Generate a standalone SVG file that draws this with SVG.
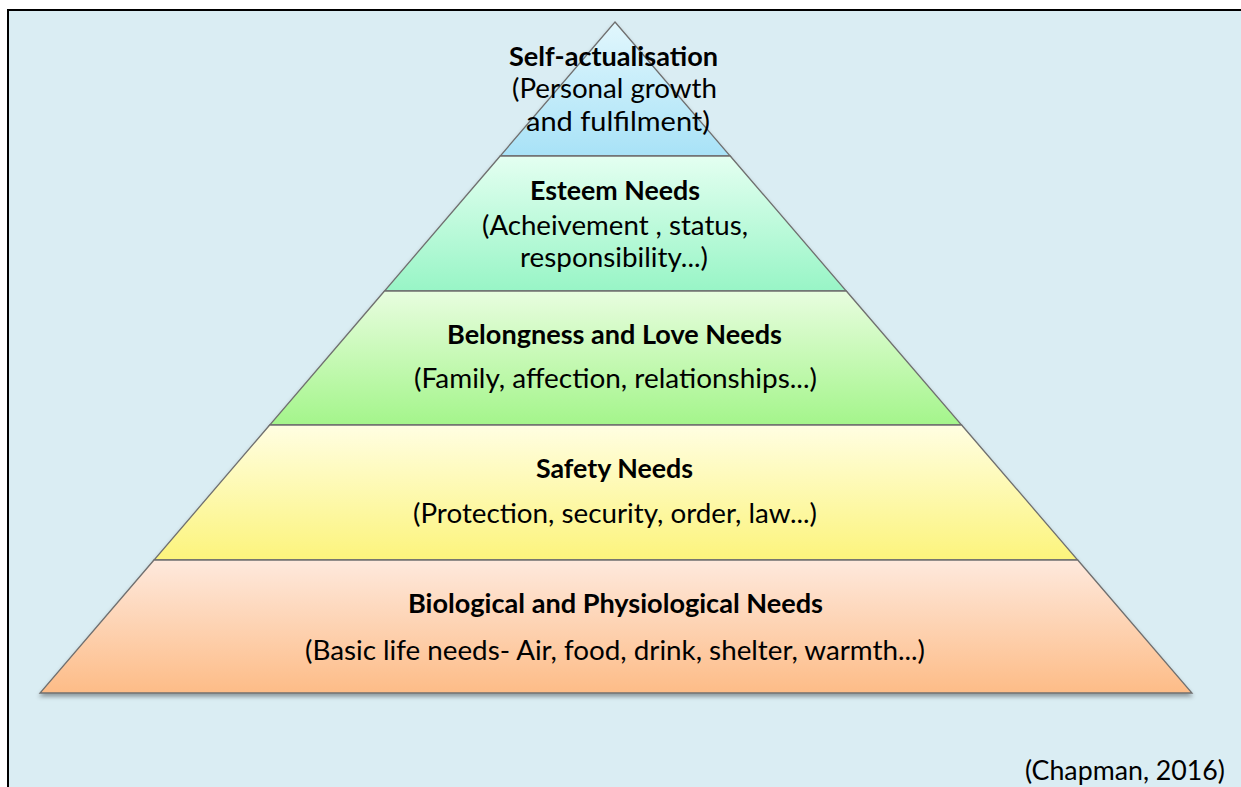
<svg xmlns="http://www.w3.org/2000/svg" width="1241" height="787" viewBox="0 0 1241 787">
<defs>
<linearGradient id="gTop" x1="0" y1="0" x2="0" y2="1"><stop offset="0" stop-color="#e2f7fd"/><stop offset="1" stop-color="#a8e2f7"/></linearGradient>
<linearGradient id="gEst" x1="0" y1="0" x2="0" y2="1"><stop offset="0" stop-color="#e4fff1"/><stop offset="1" stop-color="#98f5c6"/></linearGradient>
<linearGradient id="gBel" x1="0" y1="0" x2="0" y2="1"><stop offset="0" stop-color="#e8fddf"/><stop offset="1" stop-color="#a4f58b"/></linearGradient>
<linearGradient id="gSaf" x1="0" y1="0" x2="0" y2="1"><stop offset="0" stop-color="#fffee2"/><stop offset="1" stop-color="#fcf47c"/></linearGradient>
<linearGradient id="gBio" x1="0" y1="0" x2="0" y2="1"><stop offset="0" stop-color="#fee9dd"/><stop offset="1" stop-color="#fdbc87"/></linearGradient>
<filter id="shadow" x="-5%" y="-5%" width="110%" height="115%"><feDropShadow dx="0" dy="3" stdDeviation="2" flood-color="#000" flood-opacity="0.35"/></filter>
</defs>
<style>
.layer{stroke:#6f6f6f;stroke-width:1.3;stroke-linejoin:miter}
.t{font-family:Lato,"Open Sans","Liberation Sans",sans-serif;font-size:26px;fill:#000;text-anchor:middle}
.b{font-weight:bold}
</style>
<rect x="8" y="10" width="1240" height="800" fill="#daedf3" stroke="#000" stroke-width="2"/>
<g filter="url(#shadow)">
<g id="self-actualisation">
<polygon class="layer" fill="url(#gTop)" points="615,22 730.2,156 500.2,156"/>
</g>
<g id="esteem">
<polygon class="layer" fill="url(#gEst)" points="500.2,156 730.2,156 846.3,291 384.5,291"/>
</g>
<g id="belongness">
<polygon class="layer" fill="url(#gBel)" points="384.5,291 846.3,291 961.6,425 269.7,425"/>
</g>
<g id="safety">
<polygon class="layer" fill="url(#gSaf)" points="269.7,425 961.6,425 1077.7,560 154,560"/>
</g>
<g id="biological">
<polygon class="layer" fill="url(#gBio)" points="154,560 1077.7,560 1192,693 40,693"/>
</g>
</g>
<g id="labels">
<text class="t b" x="613.5" y="66" textLength="209" lengthAdjust="spacingAndGlyphs">Self-actualisation</text>
<text class="t" x="614.5" y="98" textLength="205" lengthAdjust="spacingAndGlyphs">(Personal growth</text>
<text class="t" x="618" y="131" textLength="184" lengthAdjust="spacingAndGlyphs">and fulfilment)</text>
<text class="t b" x="615" y="200" textLength="170" lengthAdjust="spacingAndGlyphs">Esteem Needs</text>
<text class="t" x="615" y="235" textLength="266" lengthAdjust="spacingAndGlyphs">(Acheivement , status,</text>
<text class="t" x="614" y="267" textLength="188" lengthAdjust="spacingAndGlyphs">responsibility...)</text>
<text class="t b" x="614.5" y="344" textLength="335" lengthAdjust="spacingAndGlyphs">Belongness and Love Needs</text>
<text class="t" x="615.5" y="388" textLength="403" lengthAdjust="spacingAndGlyphs">(Family, affection, relationships...)</text>
<text class="t b" x="614.5" y="478" textLength="157" lengthAdjust="spacingAndGlyphs">Safety Needs</text>
<text class="t" x="615" y="523" textLength="404" lengthAdjust="spacingAndGlyphs">(Protection, security, order, law...)</text>
<text class="t b" x="615.5" y="613" textLength="415" lengthAdjust="spacingAndGlyphs">Biological and Physiological Needs</text>
<text class="t" x="615" y="660" textLength="620" lengthAdjust="spacingAndGlyphs">(Basic life needs- Air, food, drink, shelter, warmth...)</text>
<text class="t" x="1125" y="780" textLength="200" lengthAdjust="spacingAndGlyphs">(Chapman, 2016)</text>
</g>
</svg>
